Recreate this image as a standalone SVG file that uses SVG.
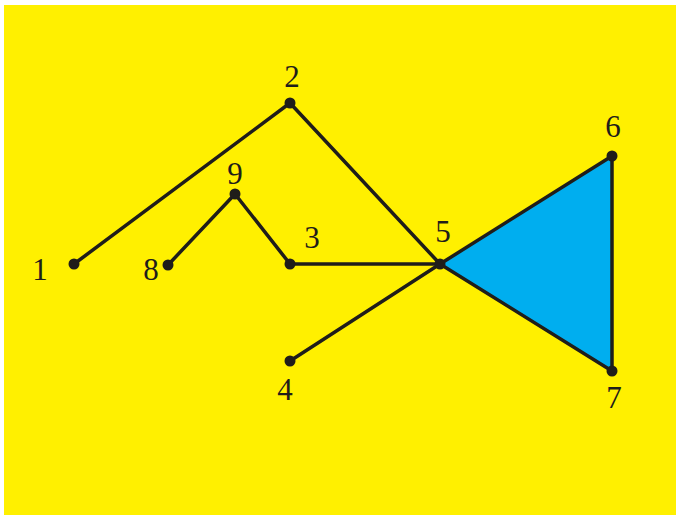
<svg xmlns="http://www.w3.org/2000/svg" width="679" height="515" viewBox="0 0 679 515">
<style>
.e{stroke:#1f1d1a;stroke-width:3.5;fill:none;stroke-linecap:round}
.d{fill:#1f1d1a}
.t{font-family:"Liberation Serif","DejaVu Serif",serif;font-size:31px;fill:#1f1d1a;text-anchor:middle}
</style>
<rect x="0" y="0" width="679" height="515" fill="#fff"/>
<rect x="4" y="5" width="672" height="510" fill="#fff000"/>
<g id="connectors">
<polygon points="440,264 612,156 612,371" fill="#00aeef" stroke="none"/>
<line class="e" x1="74" y1="264" x2="290" y2="103"/>
<line class="e" x1="290" y1="103" x2="440" y2="264"/>
<line class="e" x1="168" y1="265" x2="235" y2="194"/>
<line class="e" x1="235" y1="194" x2="290" y2="264"/>
<line class="e" x1="290" y1="264" x2="440" y2="264"/>
<line class="e" x1="290" y1="361" x2="440" y2="264"/>
<line class="e" x1="440" y1="264" x2="612" y2="156"/>
<line class="e" x1="612" y1="156" x2="612" y2="371"/>
<line class="e" x1="612" y1="371" x2="440" y2="264"/>
</g>
<g id="n1"><circle class="d" cx="74" cy="264" r="5.5"/><text class="t" x="40" y="280">1</text></g>
<g id="n2"><circle class="d" cx="290" cy="103" r="5.5"/><text class="t" x="292" y="87">2</text></g>
<g id="n3"><circle class="d" cx="290" cy="264" r="5.5"/><text class="t" x="312" y="248">3</text></g>
<g id="n4"><circle class="d" cx="290" cy="361" r="5.5"/><text class="t" x="285" y="400">4</text></g>
<g id="n5"><circle class="d" cx="440" cy="264" r="5.5"/><text class="t" x="443" y="242">5</text></g>
<g id="n6"><circle class="d" cx="612" cy="156" r="5.5"/><text class="t" x="613" y="137">6</text></g>
<g id="n7"><circle class="d" cx="612" cy="371" r="5.5"/><text class="t" x="614" y="408">7</text></g>
<g id="n8"><circle class="d" cx="168" cy="265" r="5.5"/><text class="t" x="151" y="280">8</text></g>
<g id="n9"><circle class="d" cx="235" cy="194" r="5.5"/><text class="t" x="235" y="184">9</text></g>
</svg>
